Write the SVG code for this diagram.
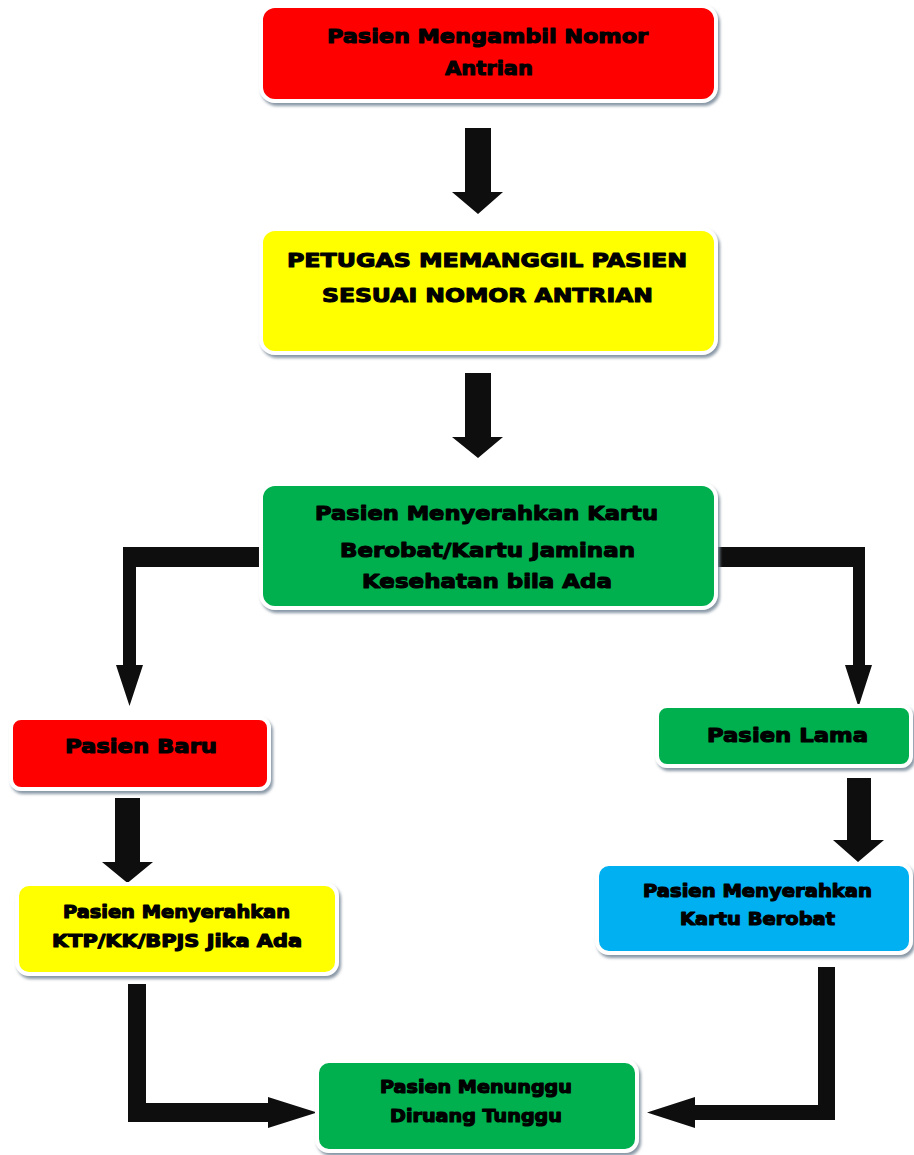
<svg xmlns="http://www.w3.org/2000/svg" width="914" height="1155" viewBox="0 0 914 1155">
<defs>
<filter id="sh" x="-10%" y="-10%" width="125%" height="135%">
<feDropShadow dx="2" dy="3" stdDeviation="1.5" flood-color="#7d8d9c" flood-opacity="0.9"/>
</filter>
<style>
.box{stroke:#ffffff;stroke-width:4;filter:url(#sh);}
.red{fill:#ff0000;}
.yel{fill:#ffff00;}
.grn{fill:#00b050;}
.blu{fill:#00b0f0;}
text{font-family:"DejaVu Sans","Liberation Sans",sans-serif;font-weight:bold;fill:#000;stroke:#000;stroke-width:1.1;stroke-linejoin:round;text-anchor:middle;}
.l{font-size:20px;}
.s{font-size:17px;}
.arr{fill:#0e0e0e;}
</style>
</defs>
<rect width="914" height="1155" fill="#ffffff"/>
<g id="connectors">
<polygon class="arr" points="465,128 491,128 491,192 503,192 478,214 452,192 465,192"/>
<polygon class="arr" points="465,373 491,373 491,437 503,437 478,458 452,437 465,437"/>
<polygon class="arr" points="261,547 261,567 136,567 136,665 143,665 129.5,706 116,665 123,665 123,547"/>
<polygon class="arr" points="718,547 865,547 865,665 872,665 858.5,707 845,665 853,665 853,567 718,567"/>
<polygon class="arr" points="115,798 140,798 140,862 153,862 127.5,883 102,862 115,862"/>
<polygon class="arr" points="847,778 871,778 871,840 884,840 858,862 833,840 847,840"/>
<polygon class="arr" points="128,984 146,984 146,1103 268,1103 268,1097 317,1112.5 268,1128 268,1122 128,1122"/>
<polygon class="arr" points="818,967 835,967 835,1120 695,1120 695,1128 647,1112.5 695,1097 695,1105 818,1105"/>
</g>
<g id="n1">
<rect class="box red" x="261" y="6" width="455" height="95" rx="14"/>
<text class="l" x="487.5" y="43" textLength="321" lengthAdjust="spacingAndGlyphs">Pasien Mengambil Nomor</text>
<text class="l" x="489" y="75" textLength="88" lengthAdjust="spacingAndGlyphs">Antrian</text>
</g>
<g id="n2">
<rect class="box yel" x="261" y="229" width="455" height="124" rx="14"/>
<text class="l" x="487" y="267" textLength="400" lengthAdjust="spacingAndGlyphs">PETUGAS MEMANGGIL PASIEN</text>
<text class="l" x="487.5" y="302" textLength="331" lengthAdjust="spacingAndGlyphs">SESUAI NOMOR ANTRIAN</text>
</g>
<g id="n3">
<rect class="box grn" x="261" y="484" width="455" height="124" rx="14"/>
<text class="l" x="486.5" y="520" textLength="343" lengthAdjust="spacingAndGlyphs">Pasien Menyerahkan Kartu</text>
<text class="l" x="487.5" y="557" textLength="295" lengthAdjust="spacingAndGlyphs">Berobat/Kartu Jaminan</text>
<text class="l" x="487" y="588" textLength="250" lengthAdjust="spacingAndGlyphs">Kesehatan bila Ada</text>
</g>
<g id="baru">
<rect class="box red" x="11" y="718" width="258" height="71" rx="10"/>
<text class="l" x="141" y="753" textLength="152" lengthAdjust="spacingAndGlyphs">Pasien Baru</text>
</g>
<g id="lama">
<rect class="box grn" x="657" y="706" width="254" height="60" rx="10"/>
<text class="l" x="787.5" y="742" textLength="161" lengthAdjust="spacingAndGlyphs">Pasien Lama</text>
</g>
<g id="ktp">
<rect class="box yel" x="17" y="884" width="320" height="90" rx="12"/>
<text class="s" x="176.5" y="918" textLength="227" lengthAdjust="spacingAndGlyphs">Pasien Menyerahkan</text>
<text class="s" x="177" y="947" textLength="250" lengthAdjust="spacingAndGlyphs">KTP/KK/BPJS Jika Ada</text>
</g>
<g id="kartu">
<rect class="box blu" x="597" y="864" width="314" height="89" rx="12"/>
<text class="s" x="757.5" y="897" textLength="229" lengthAdjust="spacingAndGlyphs">Pasien Menyerahkan</text>
<text class="s" x="757.5" y="925" textLength="155" lengthAdjust="spacingAndGlyphs">Kartu Berobat</text>
</g>
<g id="tunggu">
<rect class="box grn" x="317" y="1061" width="320" height="90" rx="12"/>
<text class="s" x="476" y="1093" textLength="192" lengthAdjust="spacingAndGlyphs">Pasien Menunggu</text>
<text class="s" x="476" y="1122" textLength="172" lengthAdjust="spacingAndGlyphs">Diruang Tunggu</text>
</g>
</svg>
